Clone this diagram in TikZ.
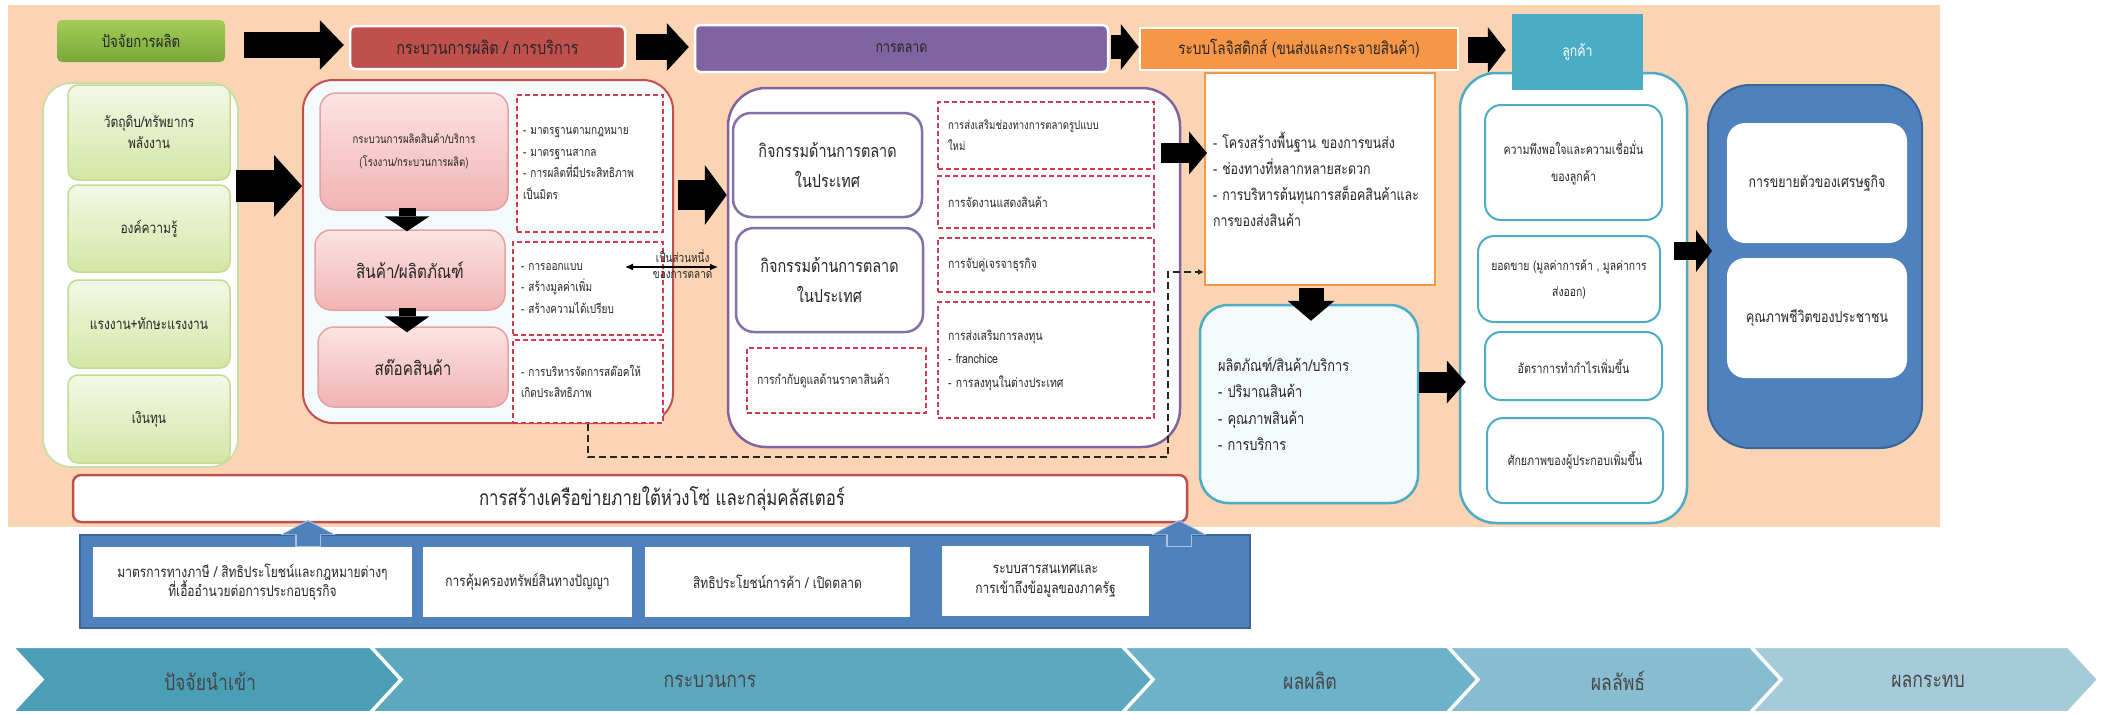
\documentclass[tikz,border=0pt]{standalone}
\usepackage{fontspec}
\newfontfamily\thaifont[Script=Thai,FakeStretch=0.8]{Loma}
\usetikzlibrary{arrows.meta,calc}
\newcommand\tf[2]{\thaifont\fontsize{#1}{#2}\selectfont}
\definecolor{peach}{HTML}{FBD4B4}
\definecolor{txt}{HTML}{262626}
\definecolor{gtop}{HTML}{A3CD59}
\definecolor{gbot}{HTML}{78A83A}
\definecolor{lgreen}{HTML}{CCDDA8}
\definecolor{gboxtop}{HTML}{F3F8E6}
\definecolor{gboxbot}{HTML}{D4E6A5}
\definecolor{gline}{HTML}{C5DA93}
\definecolor{redh}{HTML}{C0504D}
\definecolor{purh}{HTML}{8064A2}
\definecolor{purline}{HTML}{8470A8}
\definecolor{orgh}{HTML}{F79646}
\definecolor{tealh}{HTML}{4BACC6}
\definecolor{pinktop}{HTML}{FCE3E3}
\definecolor{pinkbot}{HTML}{F2B3B3}
\definecolor{pinkline}{HTML}{E3A3A3}
\definecolor{dashred}{HTML}{D23A4F}
\definecolor{pfill}{HTML}{F4FAFC}
\definecolor{blueb}{HTML}{4F81BD}
\definecolor{bluelight}{HTML}{A9C2E2}
\definecolor{blueline}{HTML}{3A6598}
\definecolor{chA}{HTML}{4A9EB6}
\definecolor{chB}{HTML}{5BA8C0}
\definecolor{chC}{HTML}{6DB2C9}
\definecolor{chD}{HTML}{88BDD1}
\definecolor{chE}{HTML}{A5CBDB}
\begin{document}
\begin{tikzpicture}[x=1pt,y=-1pt,
  base/.style={rectangle,inner sep=3pt,align=center,text=txt},
  fz/.style 2 args={font=\tf{#1}{#2}},
  hdr/.style={base,fz={16.5}{20},rounded corners=5pt,draw=white,line width=2.5pt},
  blk/.style n args={3}{draw=black,line width=#1,-{Triangle[length=#3,width=#2,line width=0pt]}},
  blu/.style n args={4}{draw=#4,line width=#1,-{Triangle[length=#3,width=#2,line width=0pt]}},
  lcont/.style={base,fill=white,draw=lgreen,line width=2pt,rounded corners=28pt},
  gbox/.style={base,fz={15}{21},top color=gboxtop,bottom color=gboxbot,draw=gline,line width=1.5pt,rounded corners=10pt},
  pcont/.style={base,fill=pfill,draw=redh,line width=2pt,rounded corners=30pt},
  pbox/.style={base,top color=pinktop,bottom color=pinkbot,draw=pinkline,line width=1.5pt,rounded corners=16pt},
  dbox/.style={base,fill=white,draw=dashred,dash pattern=on 5pt off 3pt,line width=1.4pt,align=left,fz={12.5}{21.5}},
  mcont/.style={base,fill=white,draw=purh,line width=2.5pt,rounded corners=38pt},
  mbox/.style={base,fill=white,draw=purline,line width=2.5pt,rounded corners=18pt,fz={18}{30}},
  lgbox/.style={base,fill=white,draw=orgh,line width=2pt,align=left,fz={15.5}{26}},
  prbox/.style={base,fill=pfill,draw=tealh,line width=2.5pt,rounded corners=28pt,align=left,fz={16}{26.5}},
  ccont/.style={base,fill=white,draw=tealh,line width=2.5pt,rounded corners=36pt},
  cbox/.style={base,fill=white,draw=tealh,line width=2pt,rounded corners=16pt,fz={13.3}{27}},
  icont/.style={base,fill=blueb,draw=blueline,line width=2pt,rounded corners=42pt},
  ibox/.style={base,fill=white,rounded corners=18pt,fz={15.5}{20}},
  nbar/.style={base,fill=white,draw=redh,line width=2.5pt,rounded corners=8pt,fz={21}{24}},
  bcont/.style={base,fill=blueb,draw=blueline,line width=2pt},
  bbox/.style={base,fill=white,fz={15}{19.5}},
  lab/.style={base,inner sep=1pt,fz={12.5}{15}},
  dconn/.style={draw=black!85,line width=1.8pt,dash pattern=on 7pt off 4pt,-{Latex[length=6pt,width=6pt]}},
  dbl/.style={draw=black,line width=1.2pt,{Latex[length=8pt,width=7pt]}-{Latex[length=8pt,width=7pt]}},
  chev/.style={base,fz={22}{26},text=txt!85}
]
\useasboundingbox (0,0) rectangle (2101,713);
\fill[white] (0,0) rectangle (2101,713);
\fill[peach] (8,5) rectangle (1940,527);

% headers
\node[hdr,draw=none,top color=gtop,bottom color=gbot,minimum width=168pt,minimum height=42pt] (hg) at (141,41) {ปัจจัยการผลิต};
\node[hdr,fill=redh,minimum width=275pt,minimum height=43pt,fz={18}{20}] (hr) at (487.5,47.5) {กระบวนการผลิต / การบริการ};
\node[hdr,fill=purh,minimum width=413pt,minimum height=47pt,fz={15.5}{20}] (hp) at (901.5,48.5) {การตลาด};
\node[hdr,fill=orgh,sharp corners,minimum width=318pt,minimum height=42pt,fz={17}{20}] (ho) at (1299,49) {ระบบโลจิสติกส์ (ขนส่งและกระจายสินค้า)};

% inputs
\node[lcont,minimum width=195pt,minimum height=384pt] (L) at (140.5,275) {};
\node[gbox,minimum width=162pt,minimum height=95pt] (L1) at (149,132.5) {วัตถุดิบ/ทรัพยากร\\พลังงาน};
\node[gbox,minimum width=162pt,minimum height=87pt] (L2) at (149,228.5) {องค์ความรู้};
\node[gbox,minimum width=162pt,minimum height=88pt] (L3) at (149,324) {แรงงาน+ทักษะแรงงาน};
\node[gbox,minimum width=162pt,minimum height=88pt] (L4) at (149,419) {เงินทุน};

% production
\node[pcont,minimum width=370pt,minimum height=343pt] (P) at (488,251.5) {};
\node[pbox,minimum width=188pt,minimum height=117pt,fz={12}{23}] (P1) at (414,151.5) {กระบวนการผลิตสินค้า/บริการ\\(โรงงาน/กระบวนการผลิต)};
\node[pbox,minimum width=190pt,minimum height=80pt,fz={19}{24}] (P2) at (410,270) {สินค้า/ผลิตภัณฑ์};
\node[pbox,minimum width=190pt,minimum height=80pt,fz={19}{24}] (P3) at (413,367) {สต๊อคสินค้า};
\node[dbox,minimum width=146pt,minimum height=137pt,text width=134pt,inner xsep=6pt] (D1) at (590,163.5) {- มาตรฐานตามกฎหมาย\\- มาตรฐานสากล\\- การผลิตที่มีประสิทธิภาพ\\เป็นมิตร};
\node[dbox,minimum width=150pt,minimum height=93pt,text width=134pt,inner xsep=8pt] (D2) at (588,288.5) {- การออกแบบ\\- สร้างมูลค่าเพิ่ม\\- สร้างความได้เปรียบ};
\node[dbox,minimum width=150pt,minimum height=83pt,text width=134pt,inner xsep=8pt] (D3) at (588,381.5) {- การบริหารจัดการสต๊อคให้\\เกิดประสิทธิภาพ};

% marketing
\node[mcont,minimum width=452pt,minimum height=359pt] (M) at (954,267.5) {};
\node[mbox,minimum width=189pt,minimum height=104pt] (MA) at (827.5,165) {กิจกรรมด้านการตลาด\\ในประเทศ};
\node[mbox,minimum width=187pt,minimum height=104pt] (MB) at (829.5,280) {กิจกรรมด้านการตลาด\\ในประเทศ};
\node[dbox,minimum width=179pt,minimum height=65pt,text width=159pt,inner xsep=10pt,fz={13}{21}] (MC) at (836.5,380.5) {การกำกับดูแลด้านราคาสินค้า};
\node[dbox,minimum width=216pt,minimum height=67pt,text width=196pt,inner xsep=10pt,fz={12}{21}] (MD1) at (1046,135.5) {การส่งเสริมช่องทางการตลาดรูปแบบ\\ใหม่};
\node[dbox,minimum width=216pt,minimum height=52pt,text width=196pt,inner xsep=10pt,fz={13}{21}] (MD2) at (1046,202) {การจัดงานแสดงสินค้า};
\node[dbox,minimum width=216pt,minimum height=54pt,text width=196pt,inner xsep=10pt,fz={13}{21}] (MD3) at (1046,265) {การจับคู่เจรจาธุรกิจ};
\node[dbox,minimum width=216pt,minimum height=116pt,text width=196pt,inner xsep=10pt,fz={13}{23.5}] (MD4) at (1046,360) {การส่งเสริมการลงทุน\\- franchice\\- การลงทุนในต่างประเทศ};

% logistics and product
\node[lgbox,minimum width=230pt,minimum height=212pt,text width=214pt,inner xsep=8pt] (Lg) at (1320,179) {- โครงสร้างพื้นฐาน ของการขนส่ง\\- ช่องทางที่หลากหลายสะดวก\\- การบริหารต้นทุนการสต็อคสินค้าและ\\การของส่งสินค้า};
\node[prbox,minimum width=218pt,minimum height=198pt,text width=182pt,inner xsep=18pt] (Pr) at (1309,404) {ผลิตภัณฑ์/สินค้า/บริการ\\- ปริมาณสินค้า\\- คุณภาพสินค้า\\- การบริการ};

% customers
\node[ccont,minimum width=227pt,minimum height=450pt] (C) at (1573.5,298) {};
\node[hdr,fill=tealh,draw=none,sharp corners,text=white,minimum width=131pt,minimum height=76pt,fz={15.5}{20}] (hc) at (1577.5,52) {ลูกค้า};
\node[cbox,minimum width=177pt,minimum height=115pt] (C1) at (1573.5,162.5) {ความพึงพอใจและความเชื่อมั่น\\ของลูกค้า};
\node[cbox,minimum width=182pt,minimum height=86pt,fz={13}{26}] (C2) at (1569,279) {ยอดขาย (มูลค่าการค้า , มูลค่าการ\\ส่งออก)};
\node[cbox,minimum width=177pt,minimum height=68pt] (C3) at (1573.5,366) {อัตราการทำกำไรเพิ่มขึ้น};
\node[cbox,minimum width=176pt,minimum height=85pt] (C4) at (1575,460.5) {ศักยภาพของผู้ประกอบเพิ่มขึ้น};

% impact
\node[icont,minimum width=214pt,minimum height=363pt] (I) at (1815,266.5) {};
\node[ibox,minimum width=180pt,minimum height=120pt] (I1) at (1817,183) {การขยายตัวของเศรษฐกิจ};
\node[ibox,minimum width=180pt,minimum height=120pt] (I2) at (1817,318) {คุณภาพชีวิตของประชาชน};

% network bar and supporting factors
\node[nbar,minimum width=1114pt,minimum height=47pt] (N) at (630,498.5) {\hspace*{64pt}การสร้างเครือข่ายภายใต้ห่วงโซ่ และกลุ่มคลัสเตอร์};
\node[bcont,minimum width=1170pt,minimum height=93pt] (B) at (665,581.5) {};
\node[bbox,minimum width=319pt,minimum height=70pt] (B1) at (252.5,582) {มาตรการทางภาษี / สิทธิประโยชน์และกฎหมายต่างๆ\\ที่เอื้ออำนวยต่อการประกอบธุรกิจ};
\node[bbox,minimum width=209pt,minimum height=70pt] (B2) at (527.5,582) {การคุ้มครองทรัพย์สินทางปัญญา};
\node[bbox,minimum width=265pt,minimum height=70pt] (B3) at (777.5,582) {สิทธิประโยชน์การค้า / เปิดตลาด};
\node[bbox,minimum width=207pt,minimum height=70pt] (B4) at (1045.5,581) {ระบบสารสนเทศและ\\การเข้าถึงข้อมูลของภาครัฐ};

% block arrows
\draw[blk={26pt}{50pt}{24pt}] ($(hg.east)+(18,4)$) -- ($(hr.west)+(-5,-2.5)$);
\draw[blk={26pt}{48pt}{22pt}] ($(hr.east)+(10,-0.5)$) -- ($(hp.west)+(-5,-1.5)$);
\draw[blk={24pt}{46pt}{18pt}] ($(hp.east)+(2,-1.5)$) -- ($(ho.west)+(0,-2)$);
\draw[blk={26pt}{46pt}{18pt}] ($(ho.east)+(9,1)$) -- ($(hc.west)+(-5,-2)$);
\draw[blk={32pt}{62pt}{28pt}] ($(L.east)+(-3,-89)$) -- ($(P.west)+(0,-65.5)$);
\draw[blk={17pt}{45pt}{15pt}] ($(P1.south)+(-7,-3)$) -- ($(P2.north)+(-3,2)$);
\draw[blk={17pt}{45pt}{16pt}] ($(P2.south)+(-3,-3)$) -- ($(P3.north)+(-6,6)$);
\draw[blk={30pt}{60pt}{22pt}] ($(P.east)+(4,-56.5)$) -- ($(M.west)+(0,-72.5)$);
\draw[blk={20pt}{43pt}{18pt}] ($(M.east)+(-20,-114.5)$) -- ($(Lg.west)+(3,-26)$);
\draw[blk={25pt}{47pt}{20pt}] ($(Lg.south)+(-9,2)$) -- ($(Pr.north)+(2,17)$);
\draw[blk={21pt}{43pt}{19pt}] ($(Pr.east)+(0,-22)$) -- ($(C.west)+(7,84)$);
\draw[blk={18pt}{42pt}{16pt}] ($(C.east)+(-14,-47)$) -- ($(I.west)+(5,-15.5)$);

% blue up arrows
\coordinate (ua1) at (308,547);
\coordinate (ua2) at (1179,547);
\draw[blu={26pt}{55pt}{15pt}{bluelight}] (ua1) -- ($(ua1 |- N.south)+(0,-3.5)$);
\draw[blu={23pt}{50pt}{13pt}{blueb}] ($(ua1)+(0,-1.5)$) -- ($(ua1 |- N.south)+(0,-2)$);
\draw[blu={26pt}{55pt}{15pt}{bluelight}] (ua2) -- ($(ua2 |- N.south)+(0,-3.5)$);
\draw[blu={23pt}{50pt}{13pt}{blueb}] ($(ua2)+(0,-1.5)$) -- ($(ua2 |- N.south)+(0,-2)$);

% thin connectors
\coordinate (dl) at (625,267);
\coordinate (dr) at (718,267);
\draw[dbl] (dl) -- node[pos=0.62,above=2.5pt,lab] {เป็นส่วนหนึ่ง} node[pos=0.62,below=2.5pt,lab] {ของการตลาด} (dr);
\coordinate (dA) at (587,457);
\coordinate (dB) at (1168,457);
\coordinate (dC) at (1204,272);
\draw[dconn] (D3.south) -- (D3.south |- dA) -- (dB) -- (dB |- dC) -- (dC);

% stage chevrons
\filldraw[fill=chA,draw=white,line width=2pt] (13,647) -- (370,647) -- (400,679.5) -- (370,712) -- (13,712) -- (43,679.5) -- cycle;
\filldraw[fill=chB,draw=white,line width=2pt] (372,647) -- (1122,647) -- (1152,679.5) -- (1122,712) -- (372,712) -- (402,679.5) -- cycle;
\filldraw[fill=chC,draw=white,line width=2pt] (1124,647) -- (1447,647) -- (1477,679.5) -- (1447,712) -- (1124,712) -- (1154,679.5) -- cycle;
\filldraw[fill=chD,draw=white,line width=2pt] (1449,647) -- (1750,647) -- (1780,679.5) -- (1750,712) -- (1449,712) -- (1479,679.5) -- cycle;
\filldraw[fill=chE,draw=white,line width=2pt] (1752,647) -- (2068,647) -- (2098,679.5) -- (2068,712) -- (1752,712) -- (1782,679.5) -- cycle;
\node[chev] (s1) at (210,681) {ปัจจัยนำเข้า};
\node[chev] (s2) at (710,681) {กระบวนการ};
\node[chev] (s3) at (1310,681) {ผลผลิต};
\node[chev] (s4) at (1618,681) {ผลลัพธ์};
\node[chev] (s5) at (1928,681) {ผลกระทบ};
\end{tikzpicture}
\end{document}
